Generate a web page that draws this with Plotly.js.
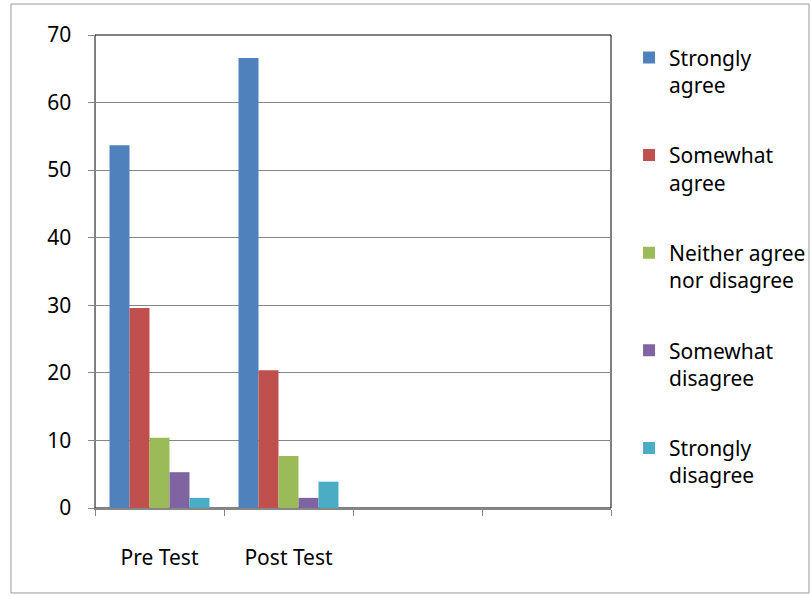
<!DOCTYPE html>
<html>
<head>
<meta charset="utf-8">
<script src="https://cdn.plot.ly/plotly-3.0.1.min.js"></script>
<style>html,body{margin:0;padding:0;background:#fff;}#chart{width:811px;height:596px;}</style>
</head>
<body>
<div id="chart"></div>
<script>
var categories = ["Pre Test", "Post Test", " ", "  "];
var seriesNames = ["Strongly<br>agree", "Somewhat<br>agree", "Neither agree<br>nor disagree", "Somewhat<br>disagree", "Strongly<br>disagree"];
var stronglyAgree = [53.7, 66.6, null, null];
var somewhatAgree = [29.6, 20.4, null, null];
var neither = [10.4, 7.7, null, null];
var somewhatDisagree = [5.3, 1.5, null, null];
var stronglyDisagree = [1.5, 3.9, null, null];
var colors = ["#4F81BD", "#C0504D", "#9BBB59", "#8064A2", "#4BACC6"];
var yTicks = [0, 10, 20, 30, 40, 50, 60, 70];

var series = [stronglyAgree, somewhatAgree, neither, somewhatDisagree, stronglyDisagree];
var traces = series.map(function (vals, i) {
  return {
    type: "bar",
    x: categories,
    y: vals,
    name: seriesNames[i],
    legendgroup: "g" + i,
    marker: { color: colors[i], line: { width: 0 } }
  };
});

var layout = {
  width: 811,
  height: 596,
  margin: { l: 95, r: 200, t: 35, b: 88, autoexpand: false },
  paper_bgcolor: "#fff",
  plot_bgcolor: "#fff",
  barmode: "group",
  bargap: 0.225,
  bargroupgap: 0,
  font: { family: "Noto Sans, sans-serif", color: "#000" },
  xaxis: {
    type: "category",
    categoryorder: "array",
    categoryarray: categories,
    tickson: "boundaries",
    ticks: "outside",
    ticklen: 6,
    tickcolor: "#868686",
    showline: true,
    linecolor: "#868686",
    linewidth: 1.5,
    showgrid: false,
    automargin: false,
    tickfont: { size: 21, family: "Noto Sans, sans-serif" },
    ticklabelstandoff: 30
  },
  yaxis: {
    range: [0, 70],
    tickvals: yTicks,
    ticks: "outside",
    ticklen: 6,
    tickcolor: "#868686",
    showline: true,
    linecolor: "#868686",
    linewidth: 1.5,
    showgrid: true,
    gridcolor: "#868686",
    gridwidth: 1,
    zeroline: false,
    automargin: false,
    tickfont: { size: 21, family: "Noto Sans, sans-serif" },
    ticklabelstandoff: 12
  },
  legend: {
    x: 1.035,
    xanchor: "left",
    y: 0.995,
    yanchor: "top",
    valign: "top",
    maxheight: 596,
    font: { size: 21, family: "Noto Sans, sans-serif" },
    tracegroupgap: 40,
    itemwidth: 30,
    bgcolor: "rgba(0,0,0,0)"
  },
  shapes: [
    { type: "rect", xref: "paper", yref: "paper", x0: 0, x1: 1, y0: 0, y1: 1, line: { color: "#000", width: 1 }, layer: "below" },
    { type: "rect", xref: "paper", yref: "paper", x0: -0.1628, x1: 1.3837, y0: -0.1797, y1: 1.0655, line: { color: "#9a9a9a", width: 1 }, layer: "below" }
  ]
};

Plotly.newPlot("chart", traces, layout, { displayModeBar: false, staticPlot: true });
</script>
</body>
</html>
